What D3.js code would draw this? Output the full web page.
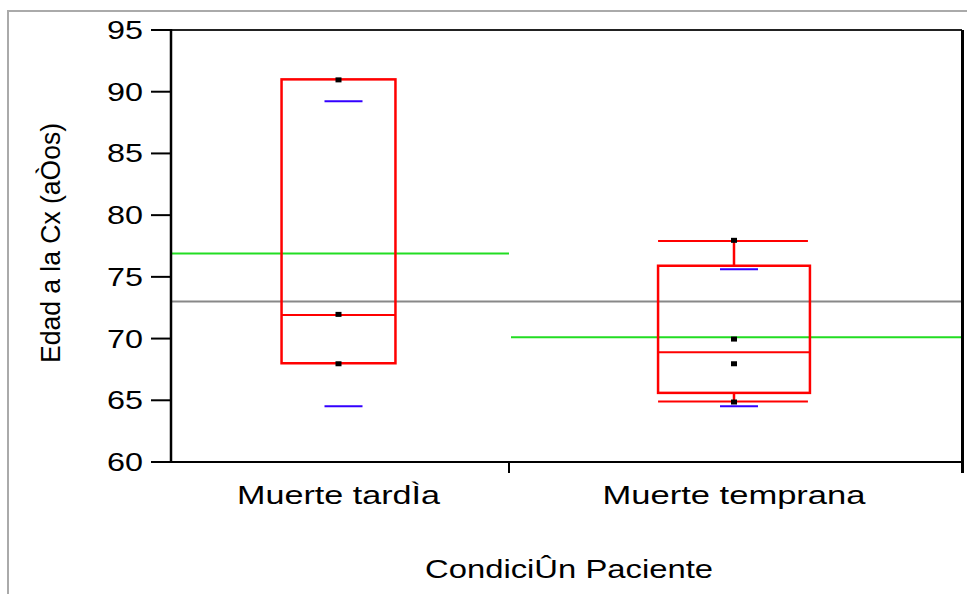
<!DOCTYPE html>
<html>
<head>
<meta charset="utf-8">
<script src="https://cdn.jsdelivr.net/npm/d3@7"></script>
<style>
  body { margin: 0; background: #fff; }
  text { font-family: "Liberation Sans", Arial, sans-serif; fill: #000; }
</style>
</head>
<body>
<svg id="chart" width="967" height="594"></svg>
<script>
// data
var categories = ["Muerte tardÌa", "Muerte temprana"]
var pointsTardia = [91, 72, 68]
var pointsTemprana = [78, 70, 68, 64.9]
var boxQ3 = [91, 75.9]
var boxMedian = [71.9, 68.9]
var boxQ1 = [68, 65.6]
var whiskerHi = [91, 77.9]
var whiskerLo = [68, 64.9]
var quantHi = [89.3, 75.7]   // blue marks
var quantLo = [64.6, 64.6]
var groupMeans = [76.9, 70.1]
var grandMean = 73
var yTicks = [60, 65, 70, 75, 80, 85, 90, 95]

var groups = categories.map(function(c, i){
  return {
    name: c,
    pts: i == 0 ? pointsTardia : pointsTemprana,
    q1: boxQ1[i], med: boxMedian[i], q3: boxQ3[i],
    lo: whiskerLo[i], hi: whiskerHi[i],
    qlo: quantLo[i], qhi: quantHi[i],
    mean: groupMeans[i]
  }
})
// category widths proportional to group size
var cum = 0
groups.forEach(function(g){ g.start = cum; cum += g.pts.length; g.end = cum })

var pLeft = 171, pRight = 962, pTop = 30, pBottom = 462
var x = d3.scaleLinear().domain([0, cum]).range([pLeft, pRight])
var y = d3.scaleLinear().domain([60, 95]).range([pBottom, pTop])

var svg = d3.select("#chart")

// outer frame
svg.append("rect")
  .attr("x", 8).attr("y", 11).attr("width", 1000).attr("height", 700)
  .attr("fill", "none").attr("stroke", "#aaa").attr("stroke-width", 2)

// grand mean
svg.append("line")
  .attr("x1", pLeft).attr("x2", pRight)
  .attr("y1", y(grandMean)).attr("y2", y(grandMean))
  .attr("stroke", "#888").attr("stroke-width", 2)

// group means
svg.selectAll(".mean").data(groups).enter().append("line")
  .attr("x1", d => x(d.start) + 1).attr("x2", d => x(d.end) - 1)
  .attr("y1", d => y(d.mean)).attr("y2", d => y(d.mean))
  .attr("stroke", "#22dd22").attr("stroke-width", 2)

groups.forEach(function(g){
  var cx = x((g.start + g.end) / 2) - 2
  var hw = (x(g.end) - x(g.start)) * 0.168
  var s = svg.append("g")

  // whiskers + caps (only when outside the box)
  if (g.hi > g.q3) {
    s.append("line").attr("x1", cx).attr("x2", cx).attr("y1", y(g.q3)).attr("y2", y(g.hi))
      .attr("stroke", "red").attr("stroke-width", 2.5)
    s.append("line").attr("x1", cx - hw).attr("x2", cx + hw - 2).attr("y1", y(g.hi)).attr("y2", y(g.hi))
      .attr("stroke", "red").attr("stroke-width", 2)
  }
  if (g.lo < g.q1) {
    s.append("line").attr("x1", cx).attr("x2", cx).attr("y1", y(g.q1)).attr("y2", y(g.lo))
      .attr("stroke", "red").attr("stroke-width", 2.5)
    s.append("line").attr("x1", cx - hw).attr("x2", cx + hw - 2).attr("y1", y(g.lo)).attr("y2", y(g.lo))
      .attr("stroke", "red").attr("stroke-width", 2)
  }

  // blue quantile marks
  s.selectAll(".q").data([g.qhi, g.qlo]).enter().append("line")
    .attr("x1", cx - 14).attr("x2", cx + 24)
    .attr("y1", d => y(d) + 1).attr("y2", d => y(d) + 1)
    .attr("stroke", "#3300ff").attr("stroke-width", 2)

  // box
  s.append("rect")
    .attr("x", cx - hw).attr("width", hw * 2)
    .attr("y", y(g.q3)).attr("height", y(g.q1) - y(g.q3))
    .attr("fill", "none").attr("stroke", "red").attr("stroke-width", 2.5)
  s.append("line").attr("x1", cx - hw).attr("x2", cx + hw)
    .attr("y1", y(g.med)).attr("y2", y(g.med))
    .attr("stroke", "red").attr("stroke-width", 2)

  // points
  s.selectAll(".pt").data(g.pts).enter().append("rect")
    .attr("x", cx - 3).attr("y", d => y(d) - 2)
    .attr("width", 6).attr("height", 5)
    .attr("fill", "#000")

  // category label
  svg.append("text")
    .attr("x", cx).attr("y", 504)
    .attr("text-anchor", "middle")
    .attr("font-size", 25)
    .attr("textLength", g.start == 0 ? 203 : 263)
    .attr("lengthAdjust", "spacingAndGlyphs")
    .text(g.name)
})

// plot frame
var ax = svg.append("g").attr("stroke", "#000").attr("stroke-width", 2)
ax.append("line").attr("x1", pLeft).attr("x2", pRight).attr("y1", pTop).attr("y2", pTop).attr("stroke", "#222")
ax.append("line").attr("x1", pRight + 0.5).attr("x2", pRight + 0.5).attr("y1", pTop).attr("y2", 473).attr("stroke-width", 3)
ax.append("line").attr("x1", pLeft).attr("x2", pRight).attr("y1", pBottom).attr("y2", pBottom)
ax.append("line").attr("x1", pLeft).attr("x2", pLeft).attr("y1", pTop - 1).attr("y2", pBottom + 1).attr("stroke-width", 2.5)

// x ticks at category boundaries
ax.selectAll(".xt").data(groups.slice(0, -1)).enter().append("line")
  .attr("x1", d => x(d.end) - 1).attr("x2", d => x(d.end) - 1)
  .attr("y1", pBottom).attr("y2", 473)

// y ticks
ax.selectAll(".yt").data(yTicks).enter().append("line")
  .attr("x1", pLeft - 20).attr("x2", pLeft)
  .attr("y1", d => y(d)).attr("y2", d => y(d))
svg.selectAll(".yl").data(yTicks).enter().append("text")
  .attr("x", 143).attr("y", d => y(d) + 9)
  .attr("text-anchor", "end")
  .attr("font-size", 25)
  .attr("textLength", 36)
  .attr("lengthAdjust", "spacingAndGlyphs")
  .text(d => d)

// axis titles
svg.append("text")
  .attr("x", 569).attr("y", 578)
  .attr("text-anchor", "middle")
  .attr("font-size", 25)
  .attr("textLength", 288)
  .attr("lengthAdjust", "spacingAndGlyphs")
  .text("CondiciÛn Paciente")

svg.append("text")
  .attr("transform", "translate(60,243) rotate(-90)")
  .attr("text-anchor", "middle")
  .attr("font-size", 27)
  .attr("textLength", 240)
  .attr("lengthAdjust", "spacingAndGlyphs")
  .text("Edad a la Cx (aÒos)")
</script>
</body>
</html>
